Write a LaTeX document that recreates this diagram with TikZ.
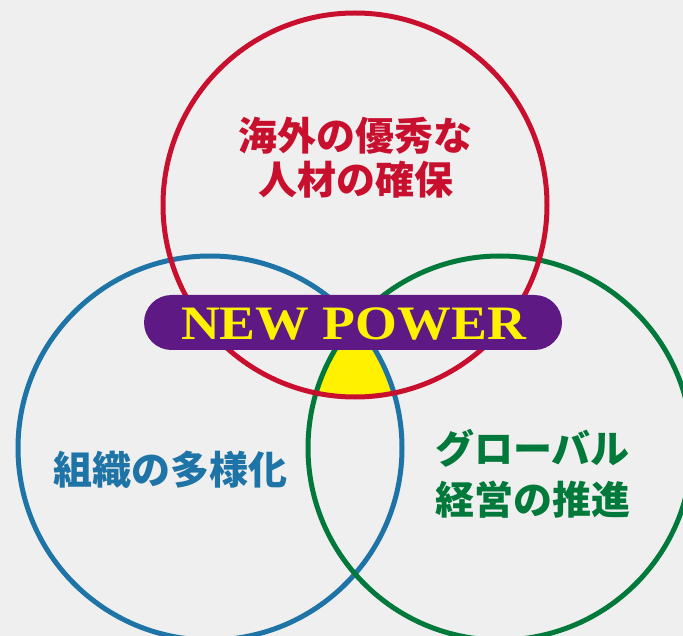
\documentclass[tikz,border=0pt]{standalone}
\usepackage{fontspec}
\newfontfamily\cjk{Noto Sans CJK JP}
\newfontfamily\npfont{Liberation Serif}
\definecolor{bgc}{HTML}{EFEFEF}
\definecolor{cred}{HTML}{C8102E}
\definecolor{cblue}{HTML}{1F74A7}
\definecolor{cgreen}{HTML}{00793A}
\definecolor{cpurple}{HTML}{5F1985}
\definecolor{cyellow}{HTML}{FFF100}
\tikzset{
  ring/.style={line width=5pt},
  jtext/.style={inner sep=0pt, font=\cjk\bfseries\fontsize{39}{44}\selectfont},
}
\begin{document}
\begin{tikzpicture}[x=1pt,y=-1pt]
\fill[bgc] (0,0) rectangle (683,636);
\useasboundingbox (0,0) rectangle (683,636);
\coordinate (cr) at (355,205);
\coordinate (cb) at (210,448);
\coordinate (cg) at (500,448);
\begin{scope}
  \clip (cr) circle[radius=192pt];
  \clip (cb) circle[radius=192pt];
  \fill[cyellow] (cg) circle[radius=192pt];
\end{scope}
\draw[ring, cblue] (cb) circle[radius=192pt];
\draw[ring, cgreen] (cg) circle[radius=192pt];
\draw[ring, cred] (cr) circle[radius=192pt];
\node[fill=cpurple, minimum width=418pt, minimum height=55pt, rounded corners=27.5pt, inner sep=0pt] (pill) at (353,322.5) {};
\node[text=cyellow, inner sep=0pt, anchor=base] (np) at (353.5,340) {\scalebox{1.12}[1]{\npfont\bfseries\fontsize{48}{50}\selectfont NEW POWER}};
\node[jtext, text=cred, anchor=base] (r1) at (355,151) {海外の優秀な};
\node[jtext, text=cred, anchor=base] (r2) at (355.5,195) {人材の確保};
\node[jtext, text=cblue, anchor=base] (b1) at (170,484) {組織の多様化};
\node[jtext, text=cgreen, anchor=base west] (g1) at (435,463) {グローバル};
\node[jtext, text=cgreen, anchor=base west] (g2) at (435,514) {経営の推進};
\end{tikzpicture}
\end{document}
